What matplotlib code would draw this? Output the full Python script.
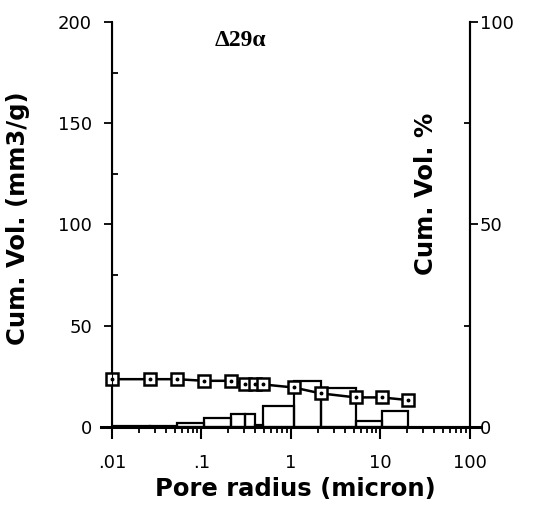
import numpy as np
import matplotlib
matplotlib.use('Agg')
import matplotlib.pyplot as plt
from matplotlib.ticker import FixedLocator, NullFormatter, LogLocator

# pore radius (micron) at each measured point
radius = [0.01, 0.0267, 0.0534, 0.107, 0.215, 0.309, 0.40, 0.49,
          1.07, 2.14, 5.28, 10.3, 20.2]
# cumulative volume (mm3/g)
cum_vol = [23.6, 23.6, 23.6, 22.8, 22.8, 21.2, 21.0, 21.0,
           19.5, 16.6, 14.6, 14.6, 13.3]
# incremental volume between consecutive radii (left axis units)
incr_vol = [0.7, 0.7, 2.0, 4.6, 6.3, 6.3, 1.0, 10.5, 22.5, 19.2, 3.1, 8.0]

left_ticks = [0, 50, 100, 150, 200]
right_ticks = [0, 50, 100]
x_ticks = [0.01, 0.1, 1, 10, 100]
x_labels = ['.01', '.1', '1', '10', '100']

fig = plt.figure(figsize=(5.35, 5.27), dpi=100)
ax = fig.add_axes([0.2093, 0.1898, 0.6692, 0.7685])

edges = np.array(radius)
ax.bar(edges[:-1], incr_vol, width=np.diff(edges), align='edge',
       fill=False, edgecolor='black', linewidth=1.6, zorder=2)

ax.plot(radius, cum_vol, '-', color='black', linewidth=1.8, marker='s',
        markersize=8.5, markerfacecolor='white', markeredgecolor='black',
        markeredgewidth=1.8, zorder=3, clip_on=False)
ax.plot(radius, cum_vol, linestyle='none', marker='o', markersize=1.8,
        color='black', zorder=4, clip_on=False)

ax.set_xscale('log')
ax.set_xlim(0.01, 100)
ax.set_ylim(0, 200)

ax.spines['top'].set_visible(False)
for s in ['left', 'right', 'bottom']:
    ax.spines[s].set_linewidth(1.5)
# base line runs a bit beyond both side axes
ax.plot([-0.03, 1.03], [0, 0], transform=ax.transAxes, color='black',
        linewidth=2.2, clip_on=False)

ax.xaxis.set_major_locator(FixedLocator(x_ticks))
ax.set_xticklabels(x_labels)
ax.xaxis.set_minor_locator(LogLocator(base=10, subs=np.arange(2, 10)))
ax.xaxis.set_minor_formatter(NullFormatter())
ax.tick_params(axis='x', which='major', direction='out', length=8.5, width=1.5,
               pad=11, labelsize=13)
ax.tick_params(axis='x', which='minor', direction='out', length=4.5, width=1.3)

ax.set_yticks(left_ticks)
ax.yaxis.set_minor_locator(FixedLocator([25, 75, 125, 175]))
ax.tick_params(axis='y', which='major', direction='out', length=5.5, width=1.3,
               pad=9, labelsize=13)
ax.tick_params(axis='y', which='minor', direction='in', length=4.5, width=1.3)

ax2 = ax.twinx()
ax2.set_ylim(0, 100)
ax2.set_yticks(right_ticks)
ax2.yaxis.set_minor_locator(FixedLocator([25, 75]))
ax2.tick_params(axis='y', which='major', direction='out', length=6, width=1.3,
                pad=1, labelsize=13)
ax2.tick_params(axis='y', which='minor', direction='in', length=4.5, width=1.3)
ax2.spines['top'].set_visible(False)
ax2.spines['right'].set_linewidth(1.5)

ax.text(0.36, 0.955, '\u039429\u03b1', transform=ax.transAxes, ha='center', va='center',
        fontsize=17, fontweight='bold', family='Liberation Serif')

fig.text(18 / 535, 1 - 218 / 527, 'Cum. Vol. (mm3/g)', rotation=90,
         ha='center', va='center', fontsize=17.5, fontweight='heavy')
fig.text(426 / 535, 1 - 194 / 527, 'Cum. Vol. %', rotation=90,
         ha='center', va='center', fontsize=17.5, fontweight='heavy')
fig.text(295 / 535, 1 - 489 / 527, 'Pore radius (micron)',
         ha='center', va='center', fontsize=17.5, fontweight='heavy')

fig.savefig('out.png', dpi=100)
